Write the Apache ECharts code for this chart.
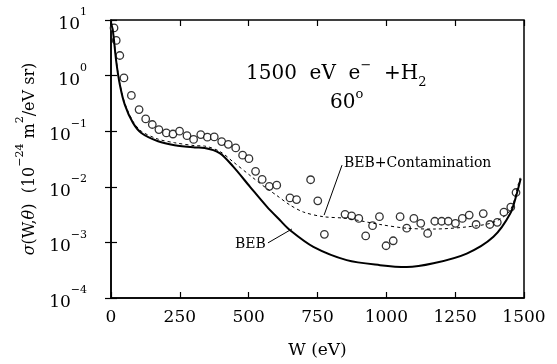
<!DOCTYPE html>
<html>
<head>
<meta charset="utf-8">
<script src="https://cdn.jsdelivr.net/npm/echarts@6/dist/echarts.min.js"></script>
<style>
html, body { margin: 0; padding: 0; background: #fff; }
#main { width: 557px; height: 364px; }
</style>
</head>
<body>
<div id="main"></div>
<script>
// BEB curve (solid)
var bebW = [0, 7, 19, 32, 50, 80, 110, 171, 231, 304, 340, 396, 444, 505, 566, 614, 650, 735, 856, 977, 1074, 1171, 1292, 1389, 1450, 1474, 1488];
var bebS = [8.9, 6.3, 1.8, 0.69, 0.30, 0.14, 0.093, 0.066, 0.056, 0.051, 0.050, 0.040, 0.023, 0.010, 0.0044, 0.0025, 0.00166, 0.00083, 0.00048, 0.00039, 0.00036, 0.00042, 0.00063, 0.00126, 0.0033, 0.0076, 0.0141];

// BEB + contamination (dashed)
var contW = [0, 7, 19, 32, 50, 80, 110, 171, 231, 304, 340, 396, 444, 505, 566, 600, 650, 700, 771, 856, 977, 1074, 1171, 1292, 1389, 1450, 1480, 1486];
var contS = [9.3, 6.5, 1.9, 0.72, 0.32, 0.15, 0.10, 0.072, 0.062, 0.055, 0.054, 0.043, 0.028, 0.016, 0.0093, 0.0071, 0.0047, 0.0035, 0.0029, 0.0027, 0.0021, 0.0018, 0.00174, 0.0019, 0.0023, 0.0038, 0.0115, 0.0145];

// measured points (circles)
var expW = [11, 19, 32, 47, 74, 102, 126, 150, 174, 201, 225, 249, 276, 300, 326, 350, 375, 402, 426, 453, 478, 501, 525, 549, 575, 602, 650, 674, 725, 751, 775, 850, 874, 900, 925, 950, 975, 999, 1025, 1050, 1074, 1100, 1125, 1150, 1176, 1201, 1225, 1251, 1276, 1301, 1326, 1352, 1376, 1403, 1427, 1452, 1471];
var expS = [7.2, 4.3, 2.3, 0.91, 0.44, 0.245, 0.166, 0.132, 0.107, 0.093, 0.089, 0.10, 0.083, 0.071, 0.087, 0.078, 0.079, 0.065, 0.058, 0.050, 0.037, 0.032, 0.019, 0.0136, 0.0102, 0.0107, 0.0063, 0.0059, 0.0134, 0.0056, 0.0014, 0.0032, 0.0030, 0.0027, 0.00131, 0.0020, 0.0029, 0.00087, 0.00107, 0.0029, 0.0018, 0.0027, 0.0022, 0.00145, 0.0024, 0.0024, 0.0024, 0.0022, 0.0027, 0.0031, 0.0021, 0.0033, 0.0021, 0.0023, 0.0035, 0.0043, 0.0079];

// leader lines for the labels
var contLeader = [[839, 0.0245], [774, 0.0031]];
var bebLeader = [[570, 0.00098], [657, 0.00174]];

function pairs(xs, ys) {
    return xs.map(function (x, i) { return [x, ys[i]]; });
}

var font = 'DejaVu Serif';
var supStyle = { fontSize: 11, fontFamily: font, color: '#000', verticalAlign: 'top', lineHeight: 26 };
var baseStyle = { fontSize: 17, fontFamily: font, color: '#000', lineHeight: 26, verticalAlign: 'bottom' };

var myChart = echarts.init(document.getElementById('main'));

var option = {
    animation: false,
    backgroundColor: '#fff',
    grid: { left: 111, right: 33, top: 20, bottom: 66, show: true, borderColor: '#000', borderWidth: 1.5 },
    xAxis: [{
        type: 'value',
        min: 0, max: 1500, interval: 250,
        name: 'W (eV)',
        nameLocation: 'middle',
        nameGap: 44,
        nameTextStyle: { fontFamily: font, fontSize: 17, color: '#000' },
        axisLine: { show: true, lineStyle: { color: '#000', width: 1.5 } },
        axisTick: { inside: true, length: 6, lineStyle: { color: '#000', width: 1.2 } },
        axisLabel: {
            margin: 11, fontFamily: font, fontSize: 17, color: '#000',
            formatter: function (v) { return String(v); }
        },
        splitLine: { show: false }
    }, {
        type: 'value',
        position: 'top',
        min: 0, max: 1500, interval: 250,
        axisLine: { show: false },
        axisTick: { inside: true, length: 6, lineStyle: { color: '#000', width: 1.2 } },
        axisLabel: { show: false },
        splitLine: { show: false }
    }],
    yAxis: [{
        type: 'log',
        logBase: 10,
        min: 0.0001, max: 10,
        name: '{i|σ}{n|(W,}{i|θ}{n|)  (10}{s|−24}{n| m}{s|2}{n|/eV sr)}',
        nameLocation: 'middle',
        nameGap: 68,
        nameTextStyle: {
            fontFamily: font, fontSize: 16, color: '#000',
            rich: {
                n: { fontFamily: font, fontSize: 16, color: '#000', lineHeight: 24, verticalAlign: 'bottom' },
                i: { fontStyle: 'italic', fontFamily: font, fontSize: 16, color: '#000', lineHeight: 24, verticalAlign: 'bottom' },
                s: { fontFamily: font, fontSize: 11, color: '#000', lineHeight: 24, verticalAlign: 'top' }
            }
        },
        axisLine: { show: true, lineStyle: { color: '#000', width: 1.5 } },
        axisTick: { inside: true, length: 6, lineStyle: { color: '#000', width: 1.2 } },
        axisLabel: {
            margin: 24,
            formatter: function (v) {
                var e = Math.round(Math.log10(v));
                return '{b|10}{s|' + String(e).replace('-', '−') + '}';
            },
            rich: { b: baseStyle, s: supStyle }
        },
        splitLine: { show: false },
        minorTick: { show: false }
    }, {
        type: 'log',
        logBase: 10,
        min: 0.0001, max: 10,
        position: 'right',
        axisLine: { show: false },
        axisTick: { inside: true, length: 6, lineStyle: { color: '#000', width: 1.2 } },
        axisLabel: { show: false },
        splitLine: { show: false }
    }],
    series: [{
        name: 'BEB',
        type: 'line',
        smooth: 0.3,
        symbol: 'none',
        data: pairs(bebW, bebS),
        lineStyle: { color: '#000', width: 2 },
        markLine: {
            silent: true,
            symbol: 'none',
            label: { show: false },
            lineStyle: { color: '#000', width: 1, type: 'solid' },
            data: [[{ coord: bebLeader[0] }, { coord: bebLeader[1] }]]
        }
    }, {
        name: 'BEB+Contamination',
        type: 'line',
        smooth: 0.3,
        symbol: 'none',
        data: pairs(contW, contS),
        lineStyle: { color: '#000', width: 1, type: [3, 3] },
        markLine: {
            silent: true,
            symbol: 'none',
            label: { show: false },
            lineStyle: { color: '#000', width: 1, type: 'solid' },
            data: [[{ coord: contLeader[0] }, { coord: contLeader[1] }]]
        }
    }, {
        name: 'Experiment',
        type: 'scatter',
        symbol: 'circle',
        symbolSize: 7.5,
        data: pairs(expW, expS),
        itemStyle: { color: '#fff', borderColor: '#000', borderWidth: 1.3 }
    }],
    graphic: [{
        type: 'text',
        left: 246, top: 59,
        style: {
            text: '1500  eV  e{s|−}  +H{d|2}',
            font: '20px "DejaVu Serif"',
            fill: '#000',
            rich: {
                s: { fontSize: 13, fontFamily: font, fill: '#000', verticalAlign: 'top', lineHeight: 30 },
                d: { fontSize: 13, fontFamily: font, fill: '#000', verticalAlign: 'bottom', lineHeight: 22 }
            }
        }
    }, {
        type: 'text',
        left: 330, top: 88,
        style: {
            text: '60{s|o}',
            font: '20px "DejaVu Serif"',
            fill: '#000',
            rich: { s: { fontSize: 13, fontFamily: font, fill: '#000', verticalAlign: 'top', lineHeight: 30 } }
        }
    }, {
        type: 'text',
        left: 344, top: 156,
        style: { text: 'BEB+Contamination', font: '14px "DejaVu Serif"', fill: '#000' }
    }, {
        type: 'text',
        left: 235, top: 237,
        style: { text: 'BEB', font: '14px "DejaVu Serif"', fill: '#000' }
    }]
};

myChart.setOption(option);
</script>
</body>
</html>
